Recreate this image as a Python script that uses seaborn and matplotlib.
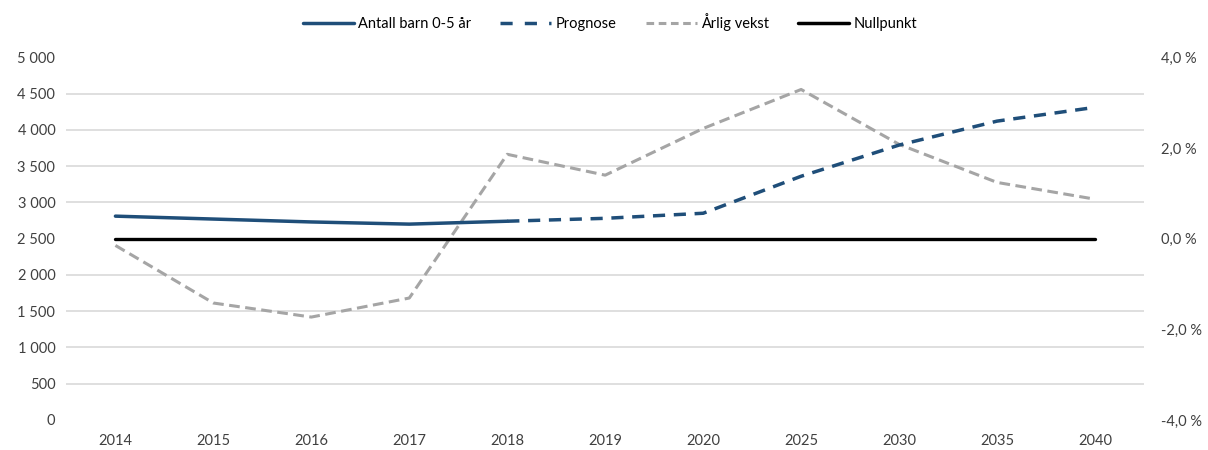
import numpy as np
import pandas as pd
import seaborn as sns
import matplotlib.pyplot as plt
from matplotlib.lines import Line2D
from matplotlib.ticker import FuncFormatter, MultipleLocator

## Data
years = ["2014", "2015", "2016", "2017", "2018", "2019", "2020", "2025", "2030", "2035", "2040"]
barn = [2810, 2770, 2730, 2700, 2740, None, None, None, None, None, None]
prognose = [None, None, None, None, 2740, 2780, 2850, 3360, 3790, 4120, 4310]
vekst = [-0.15, -1.42, -1.73, -1.31, 1.86, 1.40, 2.43, 3.29, 2.08, 1.24, 0.87]
nullpunkt = [0.0] * len(years)

BLUE = "#1F4E79"
GREY = "#A5A5A5"
GRID = "#D9D9D9"
TXT = "#404040"

sns.set_theme(style="white")
plt.rcParams["font.family"] = ["Lato", "DejaVu Sans"]

df = pd.DataFrame({
    "pos": np.arange(len(years)),
    "barn": barn,
    "prognose": prognose,
    "vekst": vekst,
    "null": nullpunkt,
})

fig = plt.figure(figsize=(12.08, 4.5), dpi=100)
ax = fig.add_axes([0.055, 0.0667, 0.892, 0.806])
ax2 = ax.twinx()

sns.lineplot(data=df, x="pos", y="barn", ax=ax, color=BLUE, lw=2.5, zorder=3)
sns.lineplot(data=df, x="pos", y="prognose", ax=ax, color=BLUE, lw=2.5, zorder=3)
ax.lines[-1].set_dashes((3.5, 2.5))
sns.lineplot(data=df, x="pos", y="vekst", ax=ax2, color=GREY, lw=2.2, zorder=2)
ax2.lines[-1].set_dashes((3.5, 1.8))
sns.lineplot(data=df, x="pos", y="null", ax=ax2, color="black", lw=2.4, zorder=2)

ax.set_ylim(0, 5000)
ax.yaxis.set_major_locator(MultipleLocator(500))
ax.yaxis.set_major_formatter(FuncFormatter(lambda v, p: f"{int(round(v)):,}".replace(",", " ")))
ax2.set_ylim(-4, 4)
ax2.yaxis.set_major_locator(MultipleLocator(2))
ax2.yaxis.set_minor_locator(MultipleLocator(0.8))
ax2.yaxis.set_major_formatter(FuncFormatter(lambda v, p: f"{v:.1f} %".replace(".", ",").replace("-0,0", "0,0")))

ax.set_xlim(-0.5, len(years) - 0.5)
ax.set_xticks(df["pos"])
ax.set_xticklabels(years)
ax.set_xlabel("")
ax.set_ylabel("")
ax2.set_ylabel("")

# gridlines on the lower axes so the lines sit on top of them
ax2.grid(axis="y", which="minor", color=GRID, lw=1.2)
ax2.set_axisbelow(True)
ax.set_zorder(ax2.get_zorder() + 1)
ax.patch.set_visible(False)

for a in (ax, ax2):
    for s in a.spines.values():
        s.set_visible(False)
    a.tick_params(which="both", length=0, labelsize=10.5, colors=TXT)
ax.tick_params(axis="x", pad=10)
ax.tick_params(axis="y", pad=8)
ax2.tick_params(axis="y", pad=12)

handles = [
    Line2D([], [], color=BLUE, lw=2.5),
    Line2D([], [], color=BLUE, lw=2.5, dashes=(3.5, 3.5)),
    Line2D([], [], color=GREY, lw=2.2, dashes=(2.5, 1.5)),
    Line2D([], [], color="black", lw=2.5),
]
labels = ["Antall barn 0-5 år", "Prognose", "Årlig vekst", "Nullpunkt"]
fig.legend(handles, labels, loc="center", bbox_to_anchor=(0.505, 0.95), ncol=4,
           frameon=False, fontsize=10.5, handlelength=3.5, handletextpad=0.3,
           columnspacing=2.0, labelcolor="black")

fig.savefig("out.png", dpi=100)
